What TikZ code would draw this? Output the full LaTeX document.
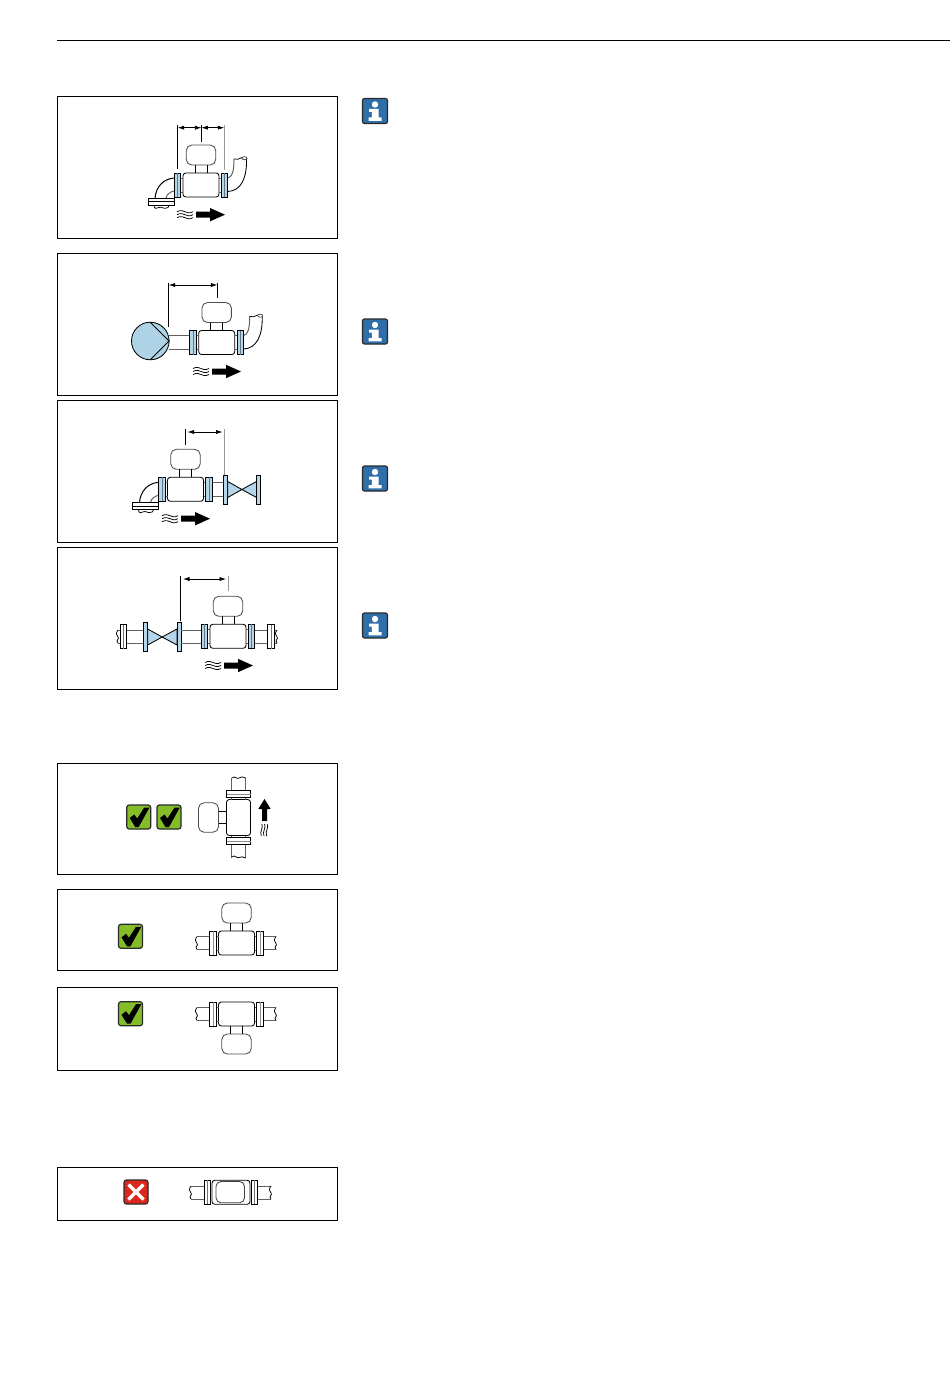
\documentclass[tikz,border=0pt]{standalone}
\usetikzlibrary{arrows.meta}
\definecolor{flangeblue}{HTML}{B5D6E8}
\definecolor{pumpblue}{HTML}{AFD3E6}
\definecolor{okgreen}{HTML}{84BD27}
\definecolor{badred}{HTML}{DA291C}
\definecolor{infoblue}{HTML}{2F6EA9}
\definecolor{darkedge}{HTML}{2A2A2A}
\tikzset{
  frame/.style={draw=black,line width=.8pt,fill=white},
  ln/.style={draw=black,line width=.85pt},
  pipe/.style={draw=black!62,line width=1pt},
  thinline/.style={draw=black,line width=.75pt},
  dimline/.style={draw=black,line width=.8pt},
  dimgrey/.style={draw=black!40,line width=.9pt},
  dimarrow/.style={draw=black,line width=.7pt,{Latex[length=6.5pt,width=4.2pt]}-{Latex[length=6.5pt,width=4.2pt]}},
  flangebox/.style={draw=black,line width=.85pt},
}
% meter: cx, cy, rotation, flange colour
\newcommand\meterpic[4]{%
\begin{scope}[shift={(#1,#2)},rotate=#3]
  \draw[ln,draw=black!70,rounded corners=5.5pt] (-14.7,-40) rectangle (14.7,-20);
  \draw[ln] (-6,-20)--(-6,-12) (6,-20)--(6,-12);
  \draw[ln,rounded corners=2.8pt] (-18,-12) rectangle (18,12);
  \draw[pipe] (-20.3,-7)--(-18,-7) (-20.3,7)--(-18,7) (20.3,-7)--(18,-7) (20.3,7)--(18,7);
  \draw[flangebox,fill=#4] (-26.8,-12) rectangle (-20.3,12);
  \draw[flangebox,fill=#4] (20.3,-12) rectangle (26.8,12);
  \draw[line width=.5pt,draw=#4!55!black] (-23.5,-12)--(-23.5,12) (23.5,-12)--(23.5,12);
\end{scope}}
% flow mark: x, y
\newcommand\flowmark[2]{%
\begin{scope}[shift={(#1,#2)}]
  \foreach \d in {-3,0,3}{
    \draw[thinline] (0,\d) .. controls (4,\d-2.2) and (6,\d-.6) .. (8,\d) .. controls (10,\d+.6) and (12,\d+2.2) .. (16,\d);
  }
  \fill[black] (19,-3)--(33,-3)--(33,-6.7)--(48,0)--(33,6.7)--(33,3)--(19,3)--cycle;
\end{scope}}
% left elbow and right elbow relative to meter centre
\newcommand\elbowleft[2]{%
\begin{scope}[shift={(#1,#2)}]
  \draw[pipe,draw=black] (-27,-7) .. controls (-38,-6) and (-45,2) .. (-46,13);
  \draw[pipe] (-27,6) .. controls (-31,7) and (-34,9) .. (-35,13);
  \draw[flangebox,fill=white] (-53,13) rectangle (-27,20.5);
  \draw[line width=.5pt] (-53,16.7)--(-27,16.7);
  \draw[thinline] (-47,20.5) .. controls (-47,24) and (-44,24) .. (-42,22.5) .. controls (-40,21) and (-37,25) .. (-33,22.5) -- (-32,20.5);
\end{scope}}
\newcommand\elbowright[2]{%
\begin{scope}[shift={(#1,#2)}]
  \draw[pipe] (26.8,-7) .. controls (31,-8) and (33,-13) .. (33,-26);
  \draw[ln] (26.8,6.5) .. controls (40,6) and (46,-7) .. (45.5,-26);
  \draw[thinline] (33,-26) .. controls (36,-24.5) and (38,-26.5) .. (41,-27.5);
  \draw[thinline,draw=black!70] (43.5,-26.8) ellipse (2.6 and 1.5);
\end{scope}}
% valve: x of left flange, x of right outer, cy
\newcommand\valvepic[3]{%
\begin{scope}[shift={(#1,#3)}]
  \draw[flangebox,fill=flangeblue] (0,-14.5) rectangle (4.4,14.5);
  \draw[flangebox,fill=flangeblue] (#2-#1-4,-14.5) rectangle (#2-#1,14.5);
  \pgfmathsetmacro\vc{(#2-#1)/2}
  \draw[ln,fill=flangeblue] (4.4,-8) -- (\vc,0) -- (4.4,8) -- cycle;
  \draw[ln,fill=flangeblue] (#2-#1-4,-8) -- (\vc,0) -- (#2-#1-4,8) -- cycle;
\end{scope}}
\newcommand\okbox[2]{%
\begin{scope}[shift={(#1,#2)}]
  \draw[draw=darkedge,line width=1.2pt,fill=okgreen,rounded corners=2.5pt] (0,0) rectangle (24,24);
  \fill[black] (3,13) -- (7.5,9.5) -- (10.5,13.5) -- (17.5,2.5) -- (22.8,2.5) -- (12,22) -- (8.5,22) -- cycle;
\end{scope}}
\newcommand\infobox[2]{%
\begin{scope}[shift={(#1,#2)}]
  \draw[draw=darkedge,line width=1.2pt,fill=infoblue,rounded corners=2pt] (-12.5,-12.5) rectangle (12.5,12.5);
  \fill[white] (0,-6.5) circle (3.2);
  \fill[white] (-6,-2) -- (3.5,-2) -- (3.5,6.5) -- (6.5,6.5) -- (6.5,9.8) -- (-6.5,9.8) -- (-6.5,6.5) -- (-3.2,6.5) -- (-3.2,1) -- (-6,1) -- cycle;
\end{scope}}
% pipe stub with wavy end: x1 (free end), x2 (flange), cy
\newcommand\pipestub[3]{%
  \draw[pipe] (#1,#3-6.5)--(#2,#3-6.5) (#1,#3+6.5)--(#2,#3+6.5);
  \draw[thinline] (#1,#3-6.5) .. controls (#1-2.6,#3-3.5) and (#1-1.5,#3-1) .. (#1,#3+.5) .. controls (#1+2,#3+2.5) and (#1-3,#3+3.5) .. (#1,#3+6.5);
}
\begin{document}
\begin{tikzpicture}[x=1pt,y=-1pt]
\useasboundingbox[fill=white] (0,0) rectangle (950,1378);
\draw[line width=.9pt] (57,40.5)--(950,40.5);
% frames
\draw[frame] (57.5,96.5) rectangle (337.5,238.5);
\draw[frame] (57.5,253.5) rectangle (337.5,395.5);
\draw[frame] (57.5,400.5) rectangle (337.5,542.5);
\draw[frame] (57.5,547.5) rectangle (337.5,689.5);
\draw[frame] (57.5,763.5) rectangle (337.5,874.5);
\draw[frame] (57.5,889.5) rectangle (337.5,970.5);
\draw[frame] (57.5,987.5) rectangle (337.5,1070.5);
\draw[frame] (57.5,1167.5) rectangle (337.5,1220.5);
% info icons
\infobox{375}{111}
\infobox{375}{331.5}
\infobox{375}{478.5}
\infobox{375}{625.5}
% diagram 1
\coordinate (a1) at (177.7,127.7); \coordinate (a2) at (201.4,127.7); \coordinate (a3) at (224.3,127.7);
\draw[dimline] (177.7,125)--(177.7,169) (201.4,125)--(201.4,142);
\draw[dimgrey] (224.3,125)--(224.3,170);
\draw[dimarrow] (a1)--(a2);
\draw[dimarrow] (a2)--(a3);
\elbowleft{201}{185}
\elbowright{201}{185}
\meterpic{201}{185}{0}{flangeblue}
\flowmark{177}{214.7}
% diagram 2
\draw[pipe] (169,335.7)--(191,335.7) (169,349.3)--(191,349.3);
\draw[ln,fill=pumpblue] (150.3,341) circle (18.8);
\draw[ln] (150.3,322.3)--(169,341)--(150.3,359.7);
\coordinate (b1) at (168.7,285); \coordinate (b2) at (217.3,285);
\draw[dimline] (168.7,282.7)--(168.7,327) (217.3,282.7)--(217.3,298);
\draw[dimarrow] (b1)--(b2);
\elbowright{216.7}{342.5}
\meterpic{216.7}{342.5}{0}{flangeblue}
\flowmark{193}{371.5}
% diagram 3
\draw[pipe] (212,482.5)--(223.3,482.5) (212,496)--(223.3,496);
\valvepic{223.3}{260.5}{489.5}
\elbowleft{185.5}{489.3}
\meterpic{185.5}{489.3}{0}{flangeblue}
\coordinate (c1) at (187.5,432); \coordinate (c2) at (222.5,432);
\draw[dimline] (185.3,429)--(185.3,445);
\draw[dimgrey] (224,429)--(224,475);
\draw[dimarrow] (c1)--(c2);
\flowmark{162}{518.7}
% diagram 4
\pipestub{118}{120.7}{636.5}
\draw[flangebox,fill=white] (120.7,624.5) rectangle (126.7,648.5);
\draw[line width=.5pt,draw=black!55] (123.7,624.5)--(123.7,648.5);
\draw[pipe] (126.7,630)--(143.3,630) (126.7,643.5)--(143.3,643.5);
\valvepic{143.3}{181}{637}
\draw[pipe] (181,630)--(201,630) (181,643.5)--(201,643.5);
\meterpic{228}{636.3}{0}{flangeblue}
\draw[pipe] (254.8,630)--(267.3,630) (254.8,643)--(267.3,643);
\pipestub{277}{274.7}{636.5}
\draw[flangebox,fill=white] (267.3,624.5) rectangle (274.7,648.5);
\draw[line width=.5pt,draw=black!55] (271,624.5)--(271,648.5);
\coordinate (d1) at (183,579); \coordinate (d2) at (226,579);
\draw[dimline] (180.7,576)--(180.7,621);
\draw[dimgrey] (228,576)--(228,591);
\draw[dimarrow] (d1)--(d2);
\flowmark{205}{665.5}
% diagram 5
\okbox{126.7}{805}
\okbox{157}{805}
\draw[pipe] (231.7,778)--(231.7,791) (245.7,778)--(245.7,791) (231.7,845)--(231.7,858) (245.7,845)--(245.7,858);
\draw[thinline] (231.7,778) .. controls (235,775) and (237,780) .. (239,778) .. controls (241,776) and (243,777) .. (245.7,778);
\draw[thinline] (231.7,857) .. controls (235,854) and (237,859) .. (239,857.5) .. controls (241,856) and (243,857) .. (245.7,858);
\meterpic{238.5}{817.5}{90}{white}
\fill[black] (262,821)--(262,809)--(258.3,809)--(264.5,799)--(270.7,809)--(267,809)--(267,821)--cycle;
\foreach \d in {-2.7,0,2.7}{
  \draw[thinline] (264.5+\d,824) .. controls (266.5+\d,827) and (262+\d,832) .. (264.5+\d-.5,836);
}
% diagram 6
\okbox{118.5}{924.3}
\pipestub{197}{210}{943}
\pipestub{276}{263}{943}
\meterpic{236.5}{943}{0}{white}
% diagram 7
\okbox{118.5}{1001.7}
\pipestub{197}{210}{1014}
\pipestub{276}{263}{1014}
\meterpic{236.5}{1014}{180}{white}
% diagram 8
\draw[draw=darkedge,line width=1.2pt,fill=badred,rounded corners=2.5pt] (124,1180) rectangle (148,1204);
\draw[white,line width=3.4pt] (128.5,1184.5)--(143.5,1199.5) (143.5,1184.5)--(128.5,1199.5);
\pipestub{191}{204.3}{1192.5}
\pipestub{271}{257.7}{1192.5}
\draw[ln,rounded corners=2.8pt] (212,1180.3) rectangle (250,1204.3);
\draw[ln,draw=black!75,rounded corners=5pt] (216,1181.5) rectangle (244.5,1202.8);
\draw[flangebox,fill=white] (204.3,1180.3) rectangle (210.7,1204.3);
\draw[flangebox,fill=white] (251,1180.3) rectangle (257.7,1204.3);
\draw[line width=.5pt,draw=black!55] (207.5,1180.3)--(207.5,1204.3) (254.4,1180.3)--(254.4,1204.3);
\end{tikzpicture}
\end{document}
